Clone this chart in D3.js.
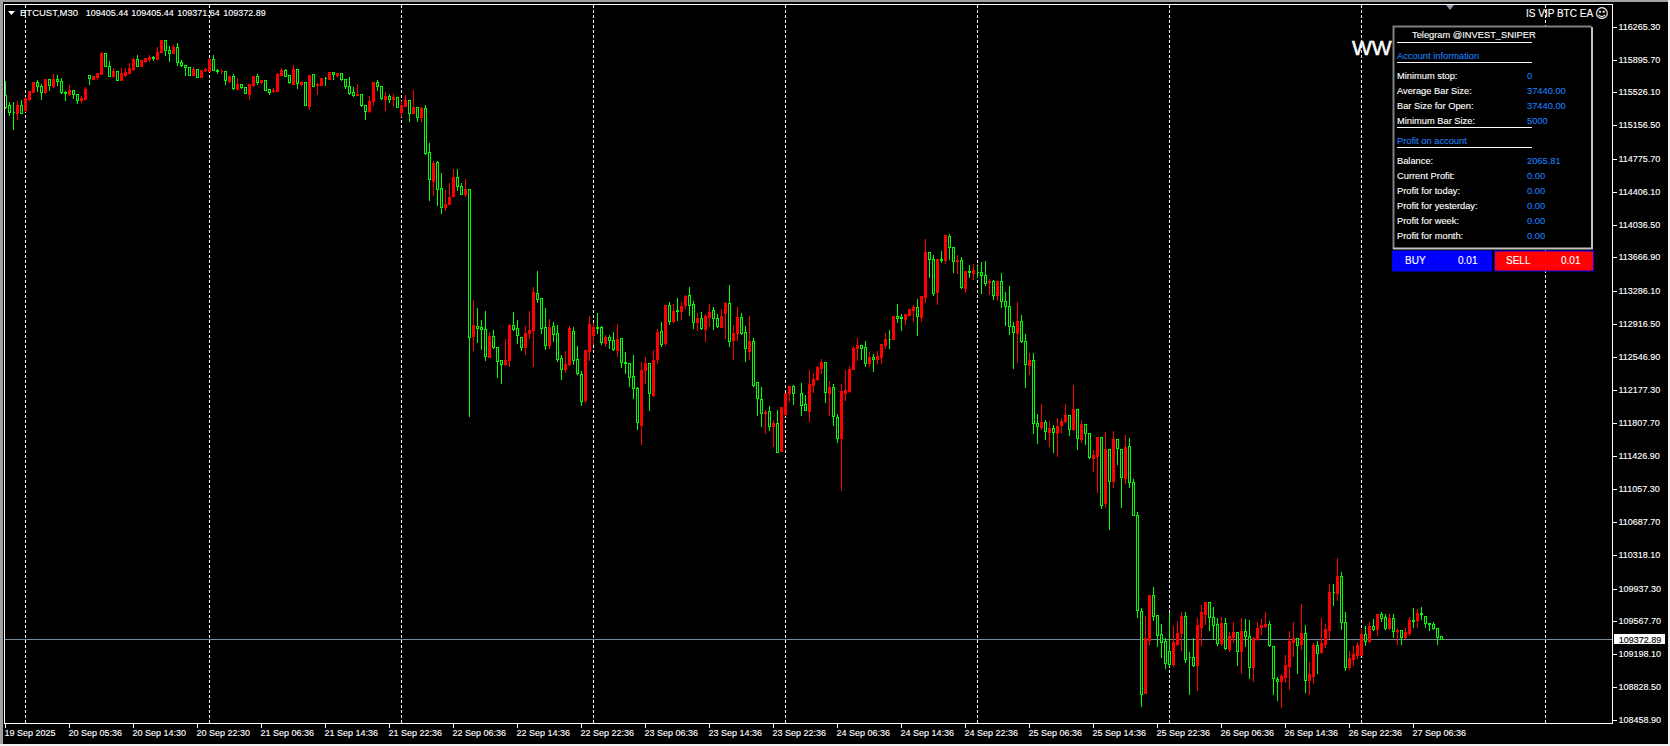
<!DOCTYPE html>
<html>
<head>
<meta charset="utf-8">
<script src="https://cdnjs.cloudflare.com/ajax/libs/d3/7.8.5/d3.min.js"></script>
<style>
html, body { margin: 0; padding: 0; background: #000; overflow: hidden; }
svg { display: block; }
text { font-family: "Liberation Sans", Arial, sans-serif; font-size: 9px; fill: #fff; stroke: #fff; stroke-width: 0.12px; }
</style>
</head>
<body>
<div id="chart"></div>
<script>
var highs = [
115669,115432,115425,115443,115455,115481,115556,115650,115676,115631,
115680,115680,115748,115733,115699,115556,115624,115556,115519,115500,
115601,115721,115725,115751,115995,115973,115894,115808,115770,115808,
115815,115872,115924,115962,115894,115920,115962,115950,116052,116127,
116131,116063,116071,116093,115902,115845,115811,115826,115800,115781,
115808,115905,115962,115804,115804,115766,115714,115748,115703,115620,
115590,115624,115725,115748,115673,115665,115564,115590,115755,115815,
115800,115721,115849,115793,115669,115642,115725,115736,115639,115695,
115714,115759,115759,115759,115744,115688,115714,115601,115635,115507,
115395,115500,115650,115676,115597,115545,115519,115519,115474,115436,
115507,115443,115564,115361,115376,115398,114970,114767,114767,114628,
114437,114516,114677,114677,114516,114565,114437,113202,113108,112976,
113078,112834,112864,112672,112514,112762,112927,113063,112976,112777,
112905,113078,113348,113524,113209,113108,112987,112950,112920,112578,
112627,112905,112894,112683,112402,112634,113021,112942,113051,112909,
112807,112807,112841,112931,112758,112616,112488,112578,112221,112503,
112559,112488,112634,112875,112950,113134,113179,113153,113220,113175,
113258,113348,113190,113055,113063,113036,113153,113119,113040,113100,
113179,113367,112920,113123,113051,112905,113021,112773,112274,112221,
111959,112007,111850,111963,111985,112143,112222,112245,null,112267,
112132,112414,112376,112455,112537,112492,112290,112256,111918,112256,
112414,112459,112680,112774,112680,112736,112616,112590,112628,112695,
112830,112864,113011,113157,113044,113044,113089,113146,113213,113247,
113889,113732,113709,113653,113754,113923,113946,113788,113709,113686,
113517,113596,113608,113585,113630,113641,113439,113424,113405,113506,
113292,113360,112954,113180,113033,112819,112605,112605,111918,112031,
111850,111839,111794,111873,111873,112031,111907,112245,111963,111850,
111805,111689,111512,111648,111648,111715,111520,111726,111632,111508,
111681,111647,111182,110810,109728,109642,109879,109969,109653,109548,
109394,109672,109529,109586,109687,109687,109236,109394,109620,109766,
109800,109800,109743,109620,109631,109620,109462,109574,109451,109620,
109608,109597,109405,109574,109608,109687,109586,109293,108955,108989,
109203,109473,109574,109383,109777,109541,109124,109338,109360,109620,
109552,110002,110002,110295,110138,109687,109248,109304,109349,109496,
109529,109574,109608,109665,109687,109665,109665,109665,109507,109484,
109507,109631,109732,109721,109743,109627,109552,109574,109492,109405.44
];
var opens = [
115496,115383,115305,115293,115383,115331,115455,115534,115646,115601,
115534,115676,115601,115676,115654,115534,115507,115552,115507,115443,
115455,115721,115680,115699,115736,115969,115823,115706,115766,115669,
115721,115744,115793,115902,115826,115883,115902,115924,115905,115977,
116116,116003,115965,116037,115868,115834,115811,115725,115789,115703,
115774,115770,115902,115781,115763,115766,115657,115710,115567,115616,
115586,115511,115612,115710,115639,115665,115560,115537,115545,115725,
115778,115718,115624,115789,115624,115642,115376,115733,115605,115612,
115688,115680,115755,115725,115744,115676,115597,115530,115492,115507,
115383,115312,115425,115642,115597,115455,115485,115447,115474,115308,
115376,115443,115289,115361,115244,115350,114854,114523,114741,114448,
114230,114264,114354,114572,114471,114377,114437,112777,112894,112882,
112860,112548,112781,112657,112507,112462,112507,112905,112871,112770,
112653,112811,112845,113265,113209,112882,112676,112894,112815,112529,
112405,112462,112837,112522,112357,112064,112616,112796,112882,112882,
112706,112770,112736,112627,112758,112488,112477,112330,112195,111782,
112402,112477,112116,112526,112837,112702,113130,112954,113074,113066,
113126,113243,113141,112942,112984,112864,112999,113074,112984,112886,
113036,113153,112732,112815,112995,112826,112616,112724,112263,112071,
111910,111932,111764,111801,111482,111899,112136,112218,null,112139,
112015,111940,112226,112297,112425,112489,112143,112207,111869,111636,
112143,112162,112406,112650,112680,112658,112474,112549,112526,112549,
112684,112751,112751,113007,112999,112977,113022,113078,113108,112999,
113225,113728,113649,113281,113649,113641,113912,113784,113623,113638,
113326,113517,113495,113506,113502,113469,113386,113405,113247,113401,
113176,113119,112894,112819,112950,112729,112459,112511,111801,111760,
111813,111704,111745,111685,111783,111828,111892,111730,111959,111625,
111790,111689,111411,111433,111644,110900,111508,111144,111621,111504,
111178,111542,111137,110765,109683,108763,109353,109864,109638,109424,
109349,109233,109090,109315,109432,109627,109169,109165,109079,109507,
109653,109785,109616,109541,109327,109548,109259,109394,109447,109229,
109458,109402,109056,109372,109499,109518,109537,109289,108917,108898,
108944,109067,109338,109379,109315,109435,108910,108955,109300,109225,
109315,109473,109901,109890,110078,109559,109056,109146,109191,109191,
109424,109349,109514,109484,109650,109616,109496,109604,109454,109469,
109394,109439,109586,109586,109661,109623,109548,109537,109492,109405.44
];
var closes = [
115361,115301,115301,115387,115289,115466,115545,115646,115594,115534,
115680,115605,115680,115650,115526,115519,115556,115504,115443,115466,
115567,115684,115710,115744,115973,115819,115706,115770,115669,115744,
115755,115804,115905,115826,115894,115917,115924,115913,115984,116119,
115999,115965,116037,115864,115830,115808,115725,115793,115703,115781,
115793,115905,115781,115766,115770,115661,115714,115571,115624,115582,
115515,115620,115714,115639,115665,115556,115534,115556,115736,115781,
115714,115642,115793,115627,115646,115380,115721,115601,115624,115691,
115684,115755,115729,115744,115673,115594,115522,115492,115511,115380,
115312,115428,115646,115594,115458,115489,115451,115474,115365,115383,
115443,115289,115361,115244,115350,114846,114546,114730,114433,114230,
114268,114351,114572,114471,114377,114437,112766,112905,112867,112860,
112552,112785,112657,112496,112462,112514,112905,112864,112788,112657,
112815,112849,113277,113194,112867,112676,112882,112800,112526,112405,
112469,112875,112514,112360,112045,112627,112920,112886,112875,112717,
112773,112732,112631,112747,112484,112477,112315,112191,111808,112402,
112477,112135,112514,112830,112687,113134,112946,113063,113063,113119,
113235,113134,112935,112987,112867,113010,113051,112980,112890,113010,
113153,112721,112815,112995,112818,112642,112724,112233,112079,111910,
111929,111763,111801,111475,111985,112143,112222,112136,null,112004,
111944,112245,112297,112436,112492,112147,112211,111877,111629,112166,
112177,112414,112650,112684,112643,112474,112549,112526,112560,112695,
112751,112744,113011,112981,112981,113033,113089,113112,113003,113236,
113732,113645,113270,113653,113641,113923,113780,113626,113641,113330,
113517,113499,113529,113499,113469,113382,113405,113247,113405,113172,
113116,112894,112823,112954,112721,112462,112515,111798,111764,111816,
111708,111749,111696,111771,111828,111895,111730,111963,111629,111794,
111685,111415,111445,111648,110877,111508,111144,111621,111516,111189,
111531,111133,110761,109691,108745,109379,109867,109631,109417,109330,
109094,109090,109338,109439,109631,109139,109161,109079,109529,109676,
109788,109612,109529,109327,109552,109263,109405,109451,109229,109462,
109398,109056,109383,109496,109529,109541,109297,108925,108898,108955,
109079,109349,109383,109304,109439,108902,108977,109304,109214,109327,
109484,109901,109894,110081,109556,109056,109158,109203,109304,109428,
109349,109518,109484,109653,109608,109496,109608,109454,109473,109394,
109451,109586,109571,109665,109646,109544,109533,109488,109394,109372.89
];
var lows = [
115350,115274,115117,115229,115289,115312,115443,115534,115537,115455,
115519,115556,115586,115612,115519,115443,115492,115466,115410,115421,
115455,115624,115676,115680,115736,115819,115706,115703,115669,115669,
115706,115744,115781,115819,115819,115864,115875,115887,115905,115977,
115950,115883,115965,115838,115826,115718,115725,115718,115699,115695,
115770,115763,115778,115748,115748,115624,115639,115567,115567,115575,
115515,115455,115601,115624,115635,115556,115511,115534,115545,115718,
115714,115631,115624,115579,115605,115380,115342,115594,115511,115612,
115612,115680,115680,115703,115661,115575,115511,115485,115492,115376,
115229,115301,115380,115549,115455,115331,115417,115376,115365,115263,
115376,115199,115289,115199,115199,114828,114309,114366,114260,114163,
114197,114264,114354,114422,114377,114362,111884,112619,112717,112631,
112514,112544,112650,112323,112248,112458,112439,112852,112702,112619,
112582,112762,112447,113160,112815,112638,112650,112728,112503,112300,
112372,112458,112469,112357,112007,112041,112514,112687,112815,112687,
112665,112646,112619,112559,112436,112368,112221,112086,111737,111561,
112255,111944,112109,112481,112665,112683,112920,112942,112961,112976,
113093,113021,112875,112852,112864,112728,112890,112864,112886,112886,
112762,112672,112526,112732,112807,112503,112526,112221,111895,111771,
111692,111726,111546,111475,111482,111892,112053,112019,null,111888,
111944,111820,112154,112290,112361,112034,111895,111775,111591,111050,
112064,112154,112406,112515,112526,112447,112447,112391,112481,112481,
112650,112650,112751,112943,112853,112920,113018,112954,112797,112954,
113168,113450,113247,113146,113619,113608,113653,113506,113495,113326,
113281,113450,113427,113446,113270,113360,113251,113202,113191,113112,
112909,112808,112425,112492,112718,112211,112357,111693,111580,111738,
111625,111546,111479,111433,111704,111816,111670,111726,111512,111591,
111569,111411,111264,111028,110840,110851,110611,111076,111343,110859,
111129,111084,110761,109620,108617,108763,109315,109586,109293,109169,
109045,109060,109067,109304,109248,109113,108752,109060,108797,109304,
109541,109473,109368,109304,109304,109259,109236,109338,109079,108990,
109293,108932,108898,109360,109428,109507,109293,108752,108684,108606,
108887,108808,109180,108989,109259,108775,108752,108876,108989,109214,
109282,109383,109755,109811,109484,109022,109034,109079,109158,109184,
109304,109338,109473,109417,109574,109481,109484,109394,109315,109315,
109383,109417,109507,109507,109597,109507,109473,109484,109315,109371.64
];

var priceTicks = [116265.30,115895.70,115526.10,115156.50,114775.70,114406.10,114036.50,113666.90,113286.10,112916.50,112546.90,112177.30,111807.70,111426.90,111057.30,110687.70,110318.10,109937.30,109567.70,109198.10,108828.50,108458.90];
var timeLabels = ["19 Sep 2025","20 Sep 05:36","20 Sep 14:30","20 Sep 22:30","21 Sep 06:36","21 Sep 14:36","21 Sep 22:36","22 Sep 06:36","22 Sep 14:36","22 Sep 22:36","23 Sep 06:36","23 Sep 14:36","23 Sep 22:36","24 Sep 06:36","24 Sep 14:36","24 Sep 22:36","25 Sep 06:36","25 Sep 14:36","25 Sep 22:36","26 Sep 06:36","26 Sep 14:36","26 Sep 22:36","27 Sep 06:36"];
var timeTickIndex = timeLabels.map(function (d, i) { return i * 16; });
var separatorIndex = [5, 51, 99, 147, 195, 243, 291, 339, 385];
var lastPrice = 109372.89;
var headerParts = ["BTCUST,M30", "109405.44", "109405.44", "109371.64", "109372.89"];

var accountRows = [["Minimum stop:", "0"], ["Average Bar Size:", "37440.00"], ["Bar Size for Open:", "37440.00"], ["Minimum Bar Size:", "5000"]];
var profitRows = [["Balance:", "2065.81"], ["Current Profit:", "0.00"], ["Profit for today:", "0.00"], ["Profit for yesterday:", "0.00"], ["Profit for week:", "0.00"], ["Profit for month:", "0.00"]];

var width = 1670, height = 746;
var GREEN = "#00ff00", RED = "#ff0000", PANEL_BLUE = "#1e7ff0";
var PANEL_FONT = "9.3px";

var svg = d3.select("#chart").append("svg")
    .attr("width", width)
    .attr("height", height);

var x = d3.scaleLinear().domain([0, 359]).range([5.5, 1441.5]);
var y = d3.scaleLinear().domain([108458.9, 116265.3]).range([720.3, 27.3]);

function snap(v) {
    return Math.floor(v) + 0.5;
}

// window frame
svg.append("rect").attr("width", width).attr("height", height).attr("fill", "#000");
svg.append("rect").attr("width", width).attr("height", 2).attr("fill", "#a0a0a0");
svg.append("rect").attr("width", 3).attr("height", height).attr("fill", "#a0a0a0");
svg.append("rect").attr("y", 744).attr("width", width).attr("height", 2).attr("fill", "#f0f0f0");
svg.append("rect").attr("x", 1668).attr("width", 2).attr("height", height).attr("fill", "#f0f0f0");

// period separators
svg.append("g").selectAll("line")
    .data(separatorIndex)
    .enter()
    .append("line")
    .attr("x1", function (d) { return x(d); })
    .attr("x2", function (d) { return x(d); })
    .attr("y1", 5)
    .attr("y2", 723)
    .attr("stroke", "#fff")
    .attr("stroke-dasharray", "3,2")
    .attr("shape-rendering", "crispEdges");

svg.append("line")
    .attr("x1", 5).attr("x2", 1612)
    .attr("y1", snap(y(lastPrice))).attr("y2", snap(y(lastPrice)))
    .attr("stroke", "#778899")
    .attr("shape-rendering", "crispEdges");

// candles
var candles = d3.range(highs.length).filter(function (i) { return highs[i] !== null; });

var bars = svg.append("g").selectAll("g")
    .data(candles)
    .enter()
    .append("g")
    .attr("shape-rendering", "crispEdges")
    .attr("stroke", function (i) { return closes[i] > opens[i] ? RED : GREEN; });

bars.append("line")
    .attr("x1", function (i) { return x(i); })
    .attr("x2", function (i) { return x(i); })
    .attr("y1", function (i) { return snap(y(highs[i])); })
    .attr("y2", function (i) { return snap(y(lows[i])); });

bars.append("path")
    .attr("fill", function (i) { return closes[i] > opens[i] ? RED : "#000"; })
    .attr("d", function (i) {
        var top = snap(y(Math.max(opens[i], closes[i])));
        var bottom = snap(y(Math.min(opens[i], closes[i])));
        var left = x(i) - 1, right = x(i) + 1;
        return "M" + left + "," + top + "H" + right + "V" + bottom + "H" + left + "Z";
    });

// big watermark text, cut off by the panel in the original
svg.append("text")
    .attr("x", 1352)
    .attr("y", 55)
    .style("font-size", "21px")
    .style("stroke-width", "0.5px")
    .text("WW");

// chart frame
svg.append("path")
    .attr("d", "M4.5,723.5V4.5H1612.5V723.5Z")
    .attr("fill", "none")
    .attr("stroke", "#fff")
    .attr("shape-rendering", "crispEdges");

// axes
var yAxis = d3.axisRight(y)
    .tickValues(priceTicks)
    .tickSize(4)
    .tickPadding(2)
    .tickSizeOuter(0)
    .offset(0)
    .tickFormat(d3.format(".2f"));

var yg = svg.append("g").attr("transform", "translate(1612.5,0)").call(yAxis);
yg.select(".domain").remove();
yg.selectAll(".tick").attr("transform", function (d) { return "translate(0," + snap(y(d)) + ")"; });

var xAxis = d3.axisBottom(x)
    .tickValues(timeTickIndex)
    .tickSize(4)
    .tickPadding(2)
    .tickSizeOuter(0)
    .offset(0)
    .tickFormat(function (d) { return timeLabels[d / 16]; });

var xg = svg.append("g").attr("transform", "translate(0,723.5)").call(xAxis);
xg.select(".domain").remove();
xg.selectAll("text").attr("text-anchor", "start").attr("dx", "-1");

svg.selectAll(".tick line").attr("stroke", "#fff").attr("shape-rendering", "crispEdges");
svg.selectAll(".tick text").attr("fill", "#fff").attr("font-family", null).attr("font-size", null);

// price tag
svg.append("rect")
    .attr("x", 1614).attr("y", 634)
    .attr("width", 51).attr("height", 10)
    .attr("fill", "#fff");
svg.append("text")
    .attr("x", 1618.7)
    .attr("y", snap(y(lastPrice)) + 3)
    .style("fill", "#000")
    .style("stroke", "#000")
    .text(d3.format(".2f")(lastPrice));

// header
svg.append("path").attr("d", "M8,11H15L11.5,15Z").attr("fill", "#fff");
var headerX = [20, 85.7, 131.3, 177.3, 223.3];
svg.append("g").selectAll("text")
    .data(headerParts)
    .enter()
    .append("text")
    .attr("x", function (d, i) { return headerX[i]; })
    .attr("y", 16)
    .style("font-size", function (d, i) { return i === 0 ? "9.5px" : "9px"; })
    .text(function (d) { return d; });
svg.append("path").attr("d", "M1446,5H1454L1450,10Z").attr("fill", "#8c9aa8");
svg.append("text")
    .attr("x", 1526).attr("y", 16.5)
    .style("font-size", "10px")
    .text("IS VIP BTC EA");
svg.append("text")
    .attr("x", 1595).attr("y", 18)
    .style("font-family", "DejaVu Sans")
    .style("font-size", "13px")
    .text("\u263A");

// account panel
var panel = svg.append("g");
panel.append("rect").attr("x", 1393).attr("y", 26).attr("width", 199).attr("height", 223).attr("fill", "#000");
panel.append("path").attr("d", "M1393.5,249V26.5H1591.5").attr("fill", "none").attr("stroke", "#808080").attr("stroke-width", 2);
panel.append("path").attr("d", "M1592,27V248.5H1393").attr("fill", "none").attr("stroke", "#c0c0c0").attr("stroke-width", 2);

panel.append("text").attr("x", 1412).attr("y", 37.5).style("font-size", PANEL_FONT).text("Telegram @INVEST_SNIPER");

panel.selectAll("line.rule")
    .data([42.5, 62.5, 127.5, 147.5])
    .enter()
    .append("line")
    .attr("class", "rule")
    .attr("x1", 1397).attr("x2", 1532)
    .attr("y1", function (d) { return d; })
    .attr("y2", function (d) { return d; })
    .attr("stroke", "#fff")
    .attr("shape-rendering", "crispEdges");

panel.append("text").attr("x", 1397).attr("y", 58.5).style("fill", PANEL_BLUE).style("stroke", PANEL_BLUE).style("font-size", PANEL_FONT).text("Account information");
panel.append("text").attr("x", 1397).attr("y", 143.5).style("fill", PANEL_BLUE).style("stroke", PANEL_BLUE).style("font-size", PANEL_FONT).text("Profit on account");

function drawRows(rows, firstBaseline) {
    var g = panel.append("g").selectAll("g")
        .data(rows)
        .enter()
        .append("g")
        .attr("transform", function (d, i) { return "translate(0," + (firstBaseline + i * 15) + ")"; });
    g.append("text").attr("x", 1397).style("font-size", PANEL_FONT).text(function (d) { return d[0]; });
    g.append("text").attr("x", 1527).style("fill", PANEL_BLUE).style("stroke", PANEL_BLUE).style("font-size", PANEL_FONT).text(function (d) { return d[1]; });
}
drawRows(accountRows, 78.5);
drawRows(profitRows, 163.5);

// buttons
panel.append("rect").attr("x", 1392).attr("y", 250.5).attr("width", 100).attr("height", 21).attr("rx", 1).attr("fill", "#0000ff");
panel.append("rect").attr("x", 1494.5).attr("y", 251).attr("width", 99).attr("height", 20).attr("fill", "#ff0000").attr("stroke", "#0000ff");
panel.append("text").attr("x", 1405).attr("y", 264).style("font-size", "10px").text("BUY");
panel.append("text").attr("x", 1458).attr("y", 264).style("font-size", "10px").text("0.01");
panel.append("text").attr("x", 1506).attr("y", 264).style("font-size", "10px").text("SELL");
panel.append("text").attr("x", 1561).attr("y", 264).style("font-size", "10px").text("0.01");
</script>
</body>
</html>
